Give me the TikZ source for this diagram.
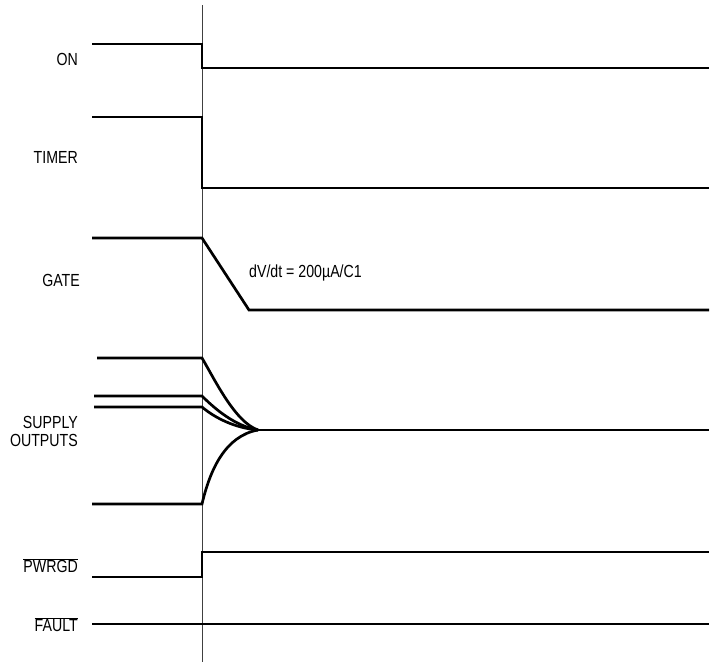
\documentclass[tikz,border=0pt]{standalone}
\usepackage{fontspec}
\setmainfont{Liberation Sans}[FakeStretch=0.81]
\begin{document}
\begin{tikzpicture}[x=1pt,y=-1pt,
  sig/.style={line width=2.7pt,line join=miter},
  lbl/.style={anchor=base east,inner sep=0pt,font=\fontsize{17.5}{20}\selectfont},
  note/.style={anchor=base west,inner sep=0pt,font=\fontsize{17.5}{20}\selectfont}]
\useasboundingbox (0,0) rectangle (713,662);
% time marker
\draw[line width=0.8pt,black!75] (202,5) -- (202,662);
% ON
\node[lbl] (lon) at (78,65.5) {ON};
\draw[sig] (92,44) -- (202,44) -- (202,68) -- (709,68);
% TIMER
\node[lbl] (ltimer) at (78,163) {TIMER};
\draw[sig] (92,117) -- (202,117) -- (202,188) -- (709,188);
% GATE
\node[lbl] (lgate) at (80,286.5) {GATE};
\draw[sig] (92,238) -- (202,238) -- (249,310) -- (709,310);
\node[note] (slope) at (249,277.5) {dV/dt = 200µA/C1};
% SUPPLY OUTPUTS
\node[lbl] (lsup) at (78,428) {SUPPLY};
\node[lbl] (lout) at (78,446.5) {OUTPUTS};
\coordinate (conv) at (258,430);
\draw[sig] (97,358) -- (202,358) .. controls (215,380) and (235,422) .. (conv);
\draw[sig] (94,396) -- (202,396) .. controls (215,409) and (235,426) .. (conv);
\draw[sig] (94,407) -- (202,407) .. controls (215,418) and (235,428) .. (conv);
\draw[sig] (92,504) -- (202,504) .. controls (210,470) and (225,436) .. (conv);
\draw[sig] (conv) -- (709,430);
% PWRGD
\node[lbl] (lpg) at (78,572.5) {$\overline{\mbox{PWRGD}}$};
\draw[sig] (92,577) -- (202,577) -- (202,552) -- (709,552);
% FAULT
\node[lbl] (lfault) at (78,631.5) {$\overline{\mbox{FAULT}}$};
\draw[sig] (92,624) -- (709,624);
\end{tikzpicture}
\end{document}
